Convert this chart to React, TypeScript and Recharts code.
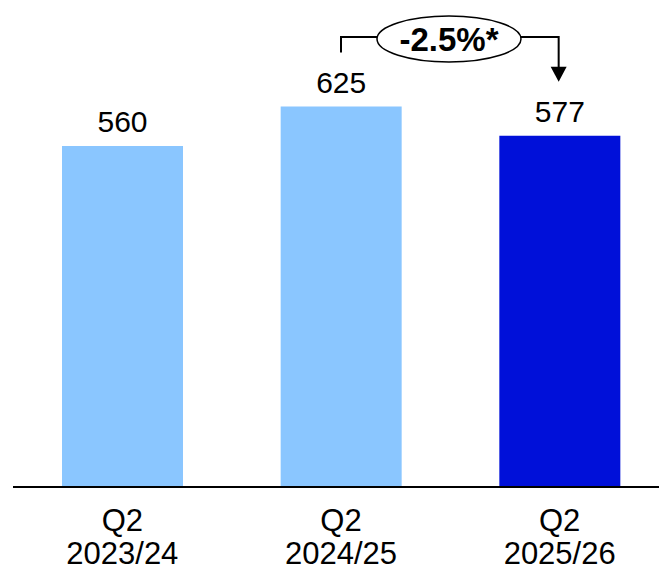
import { BarChart, Bar, XAxis, YAxis, Cell, LabelList } from "recharts";

const quarters = ["Q2", "Q2", "Q2"];
const years = ["2023/24", "2024/25", "2025/26"];
const values = [560, 625, 577];
const changeLabel = "-2.5%*";

const W = 669;
const H = 572;
const AXIS_H = 30;
const M = { top: 0, right: 0, bottom: 55, left: 13 };
const Y_MAX = 800;
const FONT = "'Liberation Sans', Arial, Helvetica, sans-serif";
const LIGHT = "#8AC6FF";
const DARK = "#0010D9";
const LABEL_SIZE = 30;
const LABEL_OFFSET = 14;

const data = values.map((v, i) => ({
  name: `${quarters[i]} ${years[i]}`,
  quarter: quarters[i],
  year: years[i],
  value: v,
}));

function YearTick({ x, y, payload }: any) {
  const row = data[payload.index];
  return (
    <g transform={`translate(${x},${y})`}>
      <text textAnchor="middle" fontFamily={FONT} fontSize={31} fill="#000" y={36}>
        {row.quarter}
      </text>
      <text textAnchor="middle" fontFamily={FONT} fontSize={31} fill="#000" y={69}>
        {row.year}
      </text>
    </g>
  );
}

// bracket + arrow between the 2nd and 3rd bars with the change bubble
function ChangeCallout() {
  const plotH = H - M.top - M.bottom - AXIS_H;
  const band = (W - M.left - M.right) / data.length;
  const cx = (i: number) => M.left + band * (i + 0.5);
  const labelTop = (i: number) =>
    M.top + plotH - (values[i] / Y_MAX) * plotH - LABEL_OFFSET - 21;
  const x1 = cx(1);
  const x2 = cx(2) - 1;
  const lineY = 37;
  const ex = 449;
  const ey = 39;
  const rx = 72;
  const ry = 23;
  const tipY = labelTop(2) - 19;
  return (
    <svg
      width={W}
      height={H}
      style={{ position: "absolute", left: 0, top: 0, pointerEvents: "none" }}
    >
      <polyline
        points={`${x1},${labelTop(1) - 19} ${x1},${lineY} ${ex - rx},${lineY}`}
        fill="none"
        stroke="#000"
        strokeWidth={2}
      />
      <polyline
        points={`${ex + rx},${lineY} ${x2},${lineY} ${x2},${tipY - 14}`}
        fill="none"
        stroke="#000"
        strokeWidth={2}
      />
      <polygon points={`${x2 - 8},${tipY - 15} ${x2 + 8},${tipY - 15} ${x2},${tipY}`} fill="#000" />
      <ellipse cx={ex} cy={ey} rx={rx} ry={ry} fill="#fff" stroke="#000" strokeWidth={1.5} />
      <text
        x={ex}
        y={ey + 12}
        textAnchor="middle"
        fontFamily={FONT}
        fontSize={33}
        fontWeight="bold"
        fill="#000"
      >
        {changeLabel}
      </text>
    </svg>
  );
}

export default function App() {
  return (
    <div
      style={{
        position: "absolute",
        left: 0,
        top: 0,
        width: 659,
        height: 572,
        overflow: "hidden",
        background: "#fff",
      }}
    >
      <BarChart width={W} height={H} data={data} margin={M} barCategoryGap="22%">
        <XAxis
          dataKey="name"
          height={AXIS_H}
          axisLine={{ stroke: "#000", strokeWidth: 2 }}
          tickLine={false}
          tick={<YearTick />}
          interval={0}
          padding={{ left: 0, right: 0 }}
        />
        <YAxis hide domain={[0, Y_MAX]} />
        <Bar dataKey="value" isAnimationActive={false} barSize={121}>
          {data.map((d, i) => (
            <Cell key={d.name} fill={i === data.length - 1 ? DARK : LIGHT} />
          ))}
          <LabelList
            dataKey="value"
            position="top"
            offset={LABEL_OFFSET}
            fontFamily={FONT}
            fontSize={LABEL_SIZE}
            fill="#000"
          />
        </Bar>
      </BarChart>
      <ChangeCallout />
    </div>
  );
}
